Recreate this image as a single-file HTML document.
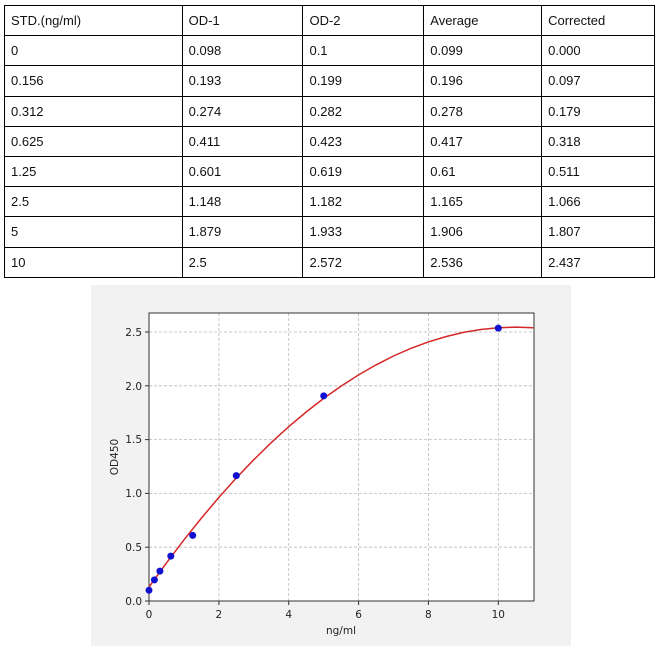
<!DOCTYPE html>
<html><head><meta charset="utf-8"><style>
body{margin:0;background:#fff;width:659px;height:655px;position:relative;font-family:"Liberation Sans",sans-serif;}
table{position:absolute;left:4px;top:5px;border-collapse:collapse;width:651px;}
td{border:1px solid #000;height:30.2px;padding:0 0 0 6px;font-size:13px;color:#111;box-sizing:border-box;}
svg{position:absolute;left:0;top:0;}
</style></head><body>
<table>
<colgroup><col style="width:178px"><col style="width:121px"><col style="width:121px"><col style="width:118px"><col style="width:113px"></colgroup>
<tr><td>STD.(ng/ml)</td><td>OD-1</td><td>OD-2</td><td>Average</td><td>Corrected</td></tr>
<tr><td>0</td><td>0.098</td><td>0.1</td><td>0.099</td><td>0.000</td></tr>
<tr><td>0.156</td><td>0.193</td><td>0.199</td><td>0.196</td><td>0.097</td></tr>
<tr><td>0.312</td><td>0.274</td><td>0.282</td><td>0.278</td><td>0.179</td></tr>
<tr><td>0.625</td><td>0.411</td><td>0.423</td><td>0.417</td><td>0.318</td></tr>
<tr><td>1.25</td><td>0.601</td><td>0.619</td><td>0.61</td><td>0.511</td></tr>
<tr><td>2.5</td><td>1.148</td><td>1.182</td><td>1.165</td><td>1.066</td></tr>
<tr><td>5</td><td>1.879</td><td>1.933</td><td>1.906</td><td>1.807</td></tr>
<tr><td>10</td><td>2.5</td><td>2.572</td><td>2.536</td><td>2.437</td></tr>
</table>
<svg width="659" height="655" font-family="DejaVu Sans, sans-serif" font-size="10.5" fill="#222">
<rect x="91" y="285" width="480" height="361" fill="#f2f2f2"/>
<rect x="149" y="313" width="385" height="288" fill="#fff"/>
<g stroke="#bbb" stroke-dasharray="3,2" stroke-width="0.8">
<line x1="218.9" y1="313" x2="218.9" y2="601"/><line x1="288.7" y1="313" x2="288.7" y2="601"/>
<line x1="358.6" y1="313" x2="358.6" y2="601"/><line x1="428.4" y1="313" x2="428.4" y2="601"/>
<line x1="498.3" y1="313" x2="498.3" y2="601"/>
<line x1="149" y1="547.2" x2="534" y2="547.2"/><line x1="149" y1="493.4" x2="534" y2="493.4"/>
<line x1="149" y1="439.6" x2="534" y2="439.6"/><line x1="149" y1="385.8" x2="534" y2="385.8"/>
<line x1="149" y1="332" x2="534" y2="332"/><line x1="149" y1="601" x2="534" y2="601"/>
</g>
<rect x="149" y="313" width="385" height="288" fill="none" stroke="#333" stroke-width="1"/>
<g stroke="#333" stroke-width="1">
<line x1="149" y1="601" x2="149" y2="605"/><line x1="218.9" y1="601" x2="218.9" y2="605"/><line x1="288.7" y1="601" x2="288.7" y2="605"/><line x1="358.6" y1="601" x2="358.6" y2="605"/><line x1="428.4" y1="601" x2="428.4" y2="605"/><line x1="498.3" y1="601" x2="498.3" y2="605"/>
<line x1="145" y1="601" x2="149" y2="601"/><line x1="145" y1="547.2" x2="149" y2="547.2"/><line x1="145" y1="493.4" x2="149" y2="493.4"/><line x1="145" y1="439.6" x2="149" y2="439.6"/><line x1="145" y1="385.8" x2="149" y2="385.8"/><line x1="145" y1="332" x2="149" y2="332"/>
</g>
<g text-anchor="middle">
<text x="149" y="618">0</text><text x="218.9" y="618">2</text><text x="288.7" y="618">4</text><text x="358.6" y="618">6</text><text x="428.4" y="618">8</text><text x="498.3" y="618">10</text>
<text x="341" y="634">ng/ml</text>
</g>
<g text-anchor="end">
<text x="142" y="605">0.0</text><text x="142" y="551">0.5</text><text x="142" y="497">1.0</text><text x="142" y="443">1.5</text><text x="142" y="390">2.0</text><text x="142" y="336">2.5</text>
</g>
<text transform="translate(118,457) rotate(-90)" text-anchor="middle">OD450</text>
<polyline fill="none" stroke="#d62728" stroke-width="1.5" points="149,587 166.5,562.9 183.9,539.9 201.4,518.1 218.9,497.4 236.3,478 253.8,459.7 271.3,442.6 288.7,426.7 306.2,412 323.7,398.4 341.1,386.1 358.6,374.9 376,364.9 393.5,356 411,348.3 428.4,341.9 445.9,336.6 463.4,332.4 480.8,329.5 498.3,327.7 515.8,327.1 533.2,327.7"/>
<g fill="#1010d0">
<circle cx="149" cy="590.3" r="3.5"/><circle cx="154.4" cy="579.9" r="3.5"/><circle cx="159.9" cy="571.1" r="3.5"/><circle cx="170.8" cy="556.1" r="3.5"/><circle cx="192.7" cy="535.4" r="3.5"/><circle cx="236.3" cy="475.6" r="3.5"/><circle cx="323.7" cy="395.9" r="3.5"/><circle cx="498.3" cy="328.1" r="3.5"/>
</g>
</svg>
</body></html>
